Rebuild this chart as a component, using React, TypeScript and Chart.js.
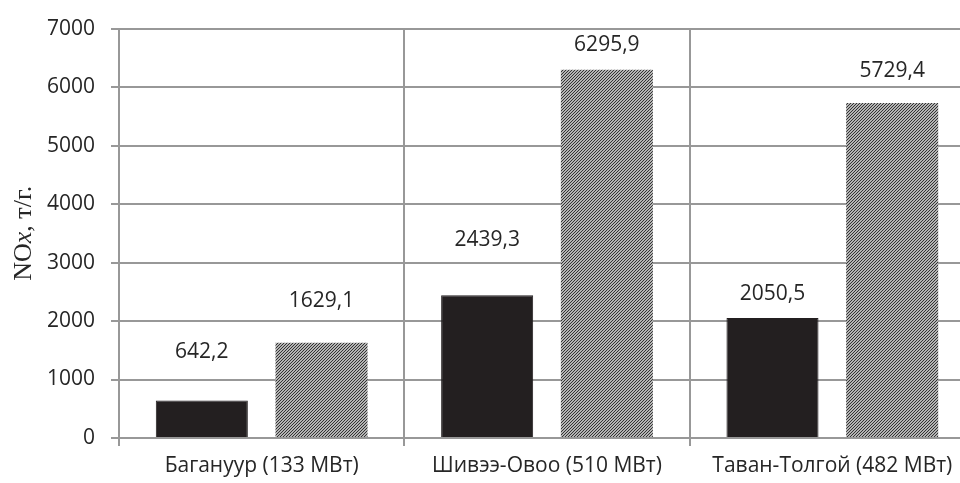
import React, { useEffect, useRef } from "react";
import { Chart, registerables } from "chart.js";

Chart.register(...registerables);

// Plant names (installed capacity in brackets)
const categories = ["Багануур (133 МВт)", "Шивээ-Овоо (510 МВт)", "Таван-Толгой (482 МВт)"];
// NOx emissions, t/year
const seriesSolid = [642.2, 2439.3, 2050.5];
const seriesHatched = [1629.1, 6295.9, 5729.4];
const yTicks = [0, 1000, 2000, 3000, 4000, 5000, 6000, 7000];

const TICK_FONT = { family: "'Open Sans', sans-serif", size: 21 };
const TEXT_COLOR = "#262626";
const GRID_COLOR = "#989898";

function makeHatch(): CanvasPattern | string {
  const c = document.createElement("canvas");
  c.width = 3;
  c.height = 3;
  const g = c.getContext("2d");
  if (!g) return "#8a8a8a";
  g.fillStyle = "#b4b4b4";
  g.fillRect(0, 0, 3, 3);
  g.fillStyle = "#333333";
  // fine upward diagonal stripes
  for (let i = 0; i < 3; i++) g.fillRect(i, 2 - i, 1, 1);
  const p = g.createPattern(c, "repeat");
  return p || "#8a8a8a";
}

const fmt = (v: number) => v.toFixed(1).replace(".", ",");

// Value labels above each bar; lift is the pixel distance from bar top to label centre
const valueLabels = {
  id: "valueLabels",
  afterDatasetsDraw(chart: any, _args: any, opts: any) {
    const ctx = chart.ctx;
    ctx.save();
    ctx.font = `${TICK_FONT.size}px ${TICK_FONT.family}`;
    ctx.fillStyle = TEXT_COLOR;
    ctx.textAlign = "center";
    ctx.textBaseline = "middle";
    chart.data.datasets.forEach((ds: any, di: number) => {
      const meta = chart.getDatasetMeta(di);
      meta.data.forEach((bar: any, i: number) => {
        const lift = opts.lift[di][i];
        ctx.fillText(fmt(ds.data[i]), bar.x, bar.y - lift);
      });
    });
    ctx.restore();
  },
};

// Rotated y-axis title with an italic "x"
const yTitle = {
  id: "yTitle",
  afterDraw(chart: any, _args: any, opts: any) {
    const ctx = chart.ctx;
    const parts: [string, boolean][] = [
      ["NO", false],
      ["x", true],
      [", т/г.", false],
    ];
    const size = opts.size;
    const fam = "'Liberation Serif', 'Times New Roman', serif";
    ctx.save();
    let total = 0;
    const widths = parts.map(([t, it]) => {
      ctx.font = `${it ? "italic " : ""}${size}px ${fam}`;
      const w = ctx.measureText(t).width;
      total += w;
      return w;
    });
    const area = chart.chartArea;
    const cy = (area.top + area.bottom) / 2;
    ctx.translate(opts.x, cy);
    ctx.rotate(-Math.PI / 2);
    ctx.fillStyle = TEXT_COLOR;
    ctx.textBaseline = "middle";
    ctx.textAlign = "left";
    let x = -total / 2;
    parts.forEach(([t, it], k) => {
      ctx.font = `${it ? "italic " : ""}${size}px ${fam}`;
      ctx.fillText(t, x, 0);
      x += widths[k];
    });
    ctx.restore();
  },
};

export default function App() {
  const ref = useRef<HTMLCanvasElement>(null);

  useEffect(() => {
    if (!ref.current) return;
    const hatch = makeHatch();
    const chart = new Chart(ref.current, {
      type: "bar",
      data: {
        labels: categories,
        datasets: [
          {
            data: seriesSolid,
            backgroundColor: "#231f20",
            borderColor: "#231f20",
            borderWidth: 1,
            categoryPercentage: 0.839,
            barPercentage: 0.769,
          },
          {
            data: seriesHatched,
            backgroundColor: hatch as any,
            borderWidth: 0,
            categoryPercentage: 0.839,
            barPercentage: 0.769,
          },
        ],
      },
      options: {
        responsive: false,
        animation: false,
        devicePixelRatio: 1,
        layout: { padding: { top: 23, left: 0, right: 0, bottom: 0 } },
        plugins: {
          legend: { display: false },
          tooltip: { enabled: false },
          valueLabels: {
            lift: [
              [48, 55, 24],
              [42, 25, 32],
            ],
          },
          yTitle: { x: 24, size: 26 },
        } as any,
        scales: {
          x: {
            grid: {
              offset: true,
              color: GRID_COLOR,
              lineWidth: 2,
              tickLength: 8,
            },
            border: { color: GRID_COLOR, width: 2 },
            ticks: { font: TICK_FONT, color: TEXT_COLOR, padding: 7, maxRotation: 0 },
            afterFit: (s: any) => {
              s.height = 45;
            },
          },
          y: {
            min: 0,
            max: 7000,
            afterBuildTicks: (s: any) => {
              s.ticks = yTicks.map((v) => ({ value: v }));
            },
            grid: { color: GRID_COLOR, lineWidth: 2, tickLength: 8 },
            border: { color: GRID_COLOR, width: 2 },
            ticks: {
              font: TICK_FONT,
              color: TEXT_COLOR,
              padding: 16,
              callback: (v: any) => String(v),
            },
            afterFit: (s: any) => {
              s.width = 119;
            },
          },
        },
      },
      plugins: [valueLabels, yTitle],
    });
    return () => chart.destroy();
  }, []);

  return (
    <div style={{ position: "absolute", left: 0, top: 0, width: 960, height: 483, overflow: "hidden", background: "#fff" }}>
      <canvas ref={ref} width={975} height={483} style={{ width: 975, height: 483, display: "block" }} />
    </div>
  );
}
